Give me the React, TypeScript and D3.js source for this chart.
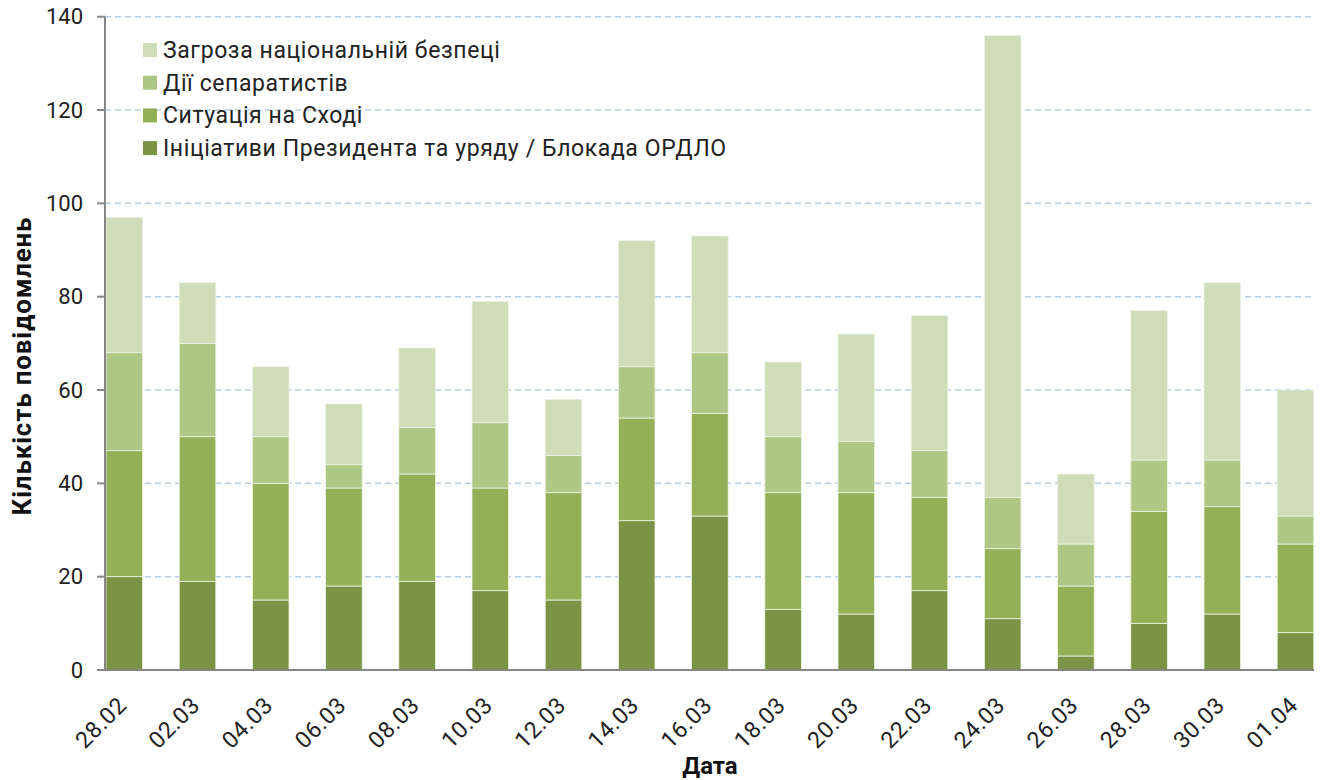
import React, { useRef, useEffect } from 'react';
import * as d3 from 'd3';

const dates = ['28.02', '02.03', '04.03', '06.03', '08.03', '10.03', '12.03', '14.03', '16.03', '18.03', '20.03', '22.03', '24.03', '26.03', '28.03', '30.03', '01.04'];

const initiatives = [20, 19, 15, 18, 19, 17, 15, 32, 33, 13, 12, 17, 11, 3, 10, 12, 8];
const eastSituation = [27, 31, 25, 21, 23, 22, 23, 22, 22, 25, 26, 20, 15, 15, 24, 23, 19];
const separatists = [21, 20, 10, 5, 10, 14, 8, 11, 13, 12, 11, 10, 11, 9, 11, 10, 6];
const securityThreat = [29, 13, 15, 13, 17, 26, 12, 27, 25, 16, 23, 29, 99, 15, 32, 38, 27];

const seriesNames = [
  'Ініціативи Президента та уряду / Блокада ОРДЛО',
  'Ситуація на Сході',
  'Дії сепаратистів',
  'Загроза національній безпеці',
];
const colors = ['#7b9344', '#94b056', '#afc785', '#cfdcb8'];
const yTicks = [0, 20, 40, 60, 80, 100, 120, 140];

const W = 1326;
const H = 780;
const FONT = 'Roboto, "Noto Sans", sans-serif';

function App() {
  const ref = useRef<SVGSVGElement>(null);

  useEffect(() => {
    const svg = d3.select(ref.current);
    svg.selectAll('*').remove();

    const table = dates.map((d, i) => ({
      date: d,
      s0: initiatives[i],
      s1: eastSituation[i],
      s2: separatists[i],
      s3: securityThreat[i],
    }));
    const stack = d3.stack<any>().keys(['s0', 's1', 's2', 's3'])(table);

    const axisX = 105;
    const right = 1314;
    const x = d3.scaleBand().domain(dates).range([87.7, 1332.1]).paddingInner(0.5).paddingOuter(0.25);
    const y = d3.scaleLinear().domain([0, 140]).range([670, 16.7]);

    // gridlines
    svg
      .append('g')
      .selectAll('line')
      .data(yTicks.filter((t) => t > 0))
      .enter()
      .append('line')
      .attr('x1', axisX)
      .attr('x2', right)
      .attr('y1', (d) => y(d))
      .attr('y2', (d) => y(d))
      .attr('stroke', '#b9cde5')
      .attr('stroke-width', 1.5)
      .attr('stroke-dasharray', '6,4');

    // bars
    svg
      .append('g')
      .selectAll('g')
      .data(stack)
      .enter()
      .append('g')
      .attr('fill', (_d, i) => colors[i])
      .selectAll('rect')
      .data((d) => d)
      .enter()
      .append('rect')
      .attr('x', (d: any) => x(d.data.date)!)
      .attr('width', x.bandwidth())
      .attr('y', (d) => y(d[1]))
      .attr('height', (d) => y(d[0]) - y(d[1]))
      .attr('stroke', '#eef3e6')
      .attr('stroke-width', 0.8);

    // y axis
    const ya = svg.append('g');
    ya.append('line')
      .attr('x1', axisX)
      .attr('x2', axisX)
      .attr('y1', y(140))
      .attr('y2', y(0))
      .attr('stroke', '#868686')
      .attr('stroke-width', 2);
    ya.selectAll('.tk')
      .data(yTicks)
      .enter()
      .append('line')
      .attr('x1', axisX - 8)
      .attr('x2', axisX)
      .attr('y1', (d) => y(d))
      .attr('y2', (d) => y(d))
      .attr('stroke', '#868686')
      .attr('stroke-width', 2);
    ya.selectAll('text')
      .data(yTicks)
      .enter()
      .append('text')
      .attr('x', 83)
      .attr('y', (d) => y(d))
      .attr('dy', '0.35em')
      .attr('text-anchor', 'end')
      .attr('font-family', FONT)
      .attr('font-size', 22)
      .attr('fill', '#222')
      .text((d) => d);

    // x axis
    svg
      .append('line')
      .attr('x1', axisX - 8)
      .attr('x2', right)
      .attr('y1', y(0))
      .attr('y2', y(0))
      .attr('stroke', '#868686')
      .attr('stroke-width', 2);
    svg
      .append('g')
      .selectAll('text')
      .data(dates)
      .enter()
      .append('text')
      .attr('transform', (d) => `translate(${x(d)! + x.bandwidth() / 2 - 2},${701}) rotate(-45)`)
      .attr('text-anchor', 'end')
      .attr('dy', '0.35em')
      .attr('font-family', FONT)
      .attr('font-size', 23)
      .attr('letter-spacing', 0.6)
      .attr('fill', '#222')
      .text((d) => d);

    // axis titles
    svg
      .append('text')
      .attr('x', 710)
      .attr('y', 774)
      .attr('text-anchor', 'middle')
      .attr('font-family', FONT)
      .attr('font-weight', 'bold')
      .attr('font-size', 24)
      .attr('fill', '#111')
      .text('Дата');
    svg
      .append('text')
      .attr('transform', 'translate(31,366) rotate(-90)')
      .attr('text-anchor', 'middle')
      .attr('font-family', FONT)
      .attr('font-weight', 'bold')
      .attr('font-size', 26)
      .attr('letter-spacing', 0.8)
      .attr('fill', '#111')
      .text('Кількість повідомлень');

    // legend (top to bottom is reverse of stacking)
    const legendOrder = [3, 2, 1, 0];
    const lg = svg
      .append('g')
      .selectAll('g')
      .data(legendOrder)
      .enter()
      .append('g')
      .attr('transform', (_d, i) => `translate(143,${50 + i * 32.7})`);
    lg.append('rect')
      .attr('x', 0)
      .attr('y', -7)
      .attr('width', 14)
      .attr('height', 14)
      .attr('fill', (d) => colors[d]);
    lg.append('text')
      .attr('x', 20)
      .attr('dy', '0.35em')
      .attr('font-family', FONT)
      .attr('font-size', 23)
      .attr('letter-spacing', 0.6)
      .attr('fill', '#222')
      .text((d) => seriesNames[d]);
  }, []);

  return (
    <div style={{ position: 'absolute', left: 0, top: 0 }}>
      <svg ref={ref} width={W} height={H} style={{ display: 'block', background: '#fff' }} />
    </div>
  );
}

export default App;
